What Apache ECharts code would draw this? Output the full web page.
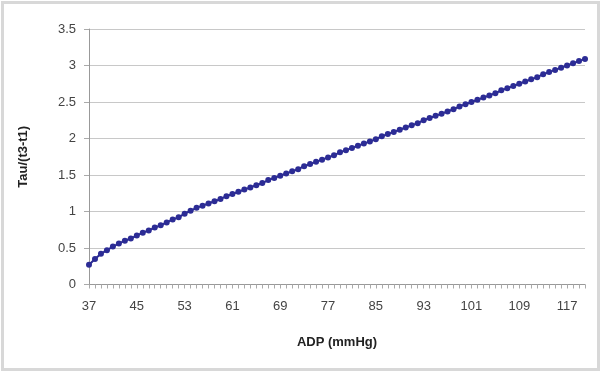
<!DOCTYPE html>
<html><head><meta charset="utf-8">
<script src="https://cdn.jsdelivr.net/npm/echarts@6/dist/echarts.min.js"></script>
<style>html,body{margin:0;padding:0;background:#fff}#c{width:600px;height:372px}</style>
</head><body><div id="c"></div>
<script>
const categories = [];
for (let v = 37; v <= 120; v++) categories.push(String(v));
const tauValues = [
0.27,0.35,0.42,0.47,0.52,0.56,0.60,0.63,0.67,0.71,
0.74,0.78,0.81,0.85,0.89,0.92,0.97,1.01,1.05,1.08,
1.11,1.14,1.17,1.21,1.24,1.27,1.30,1.33,1.36,1.39,
1.43,1.46,1.49,1.52,1.55,1.58,1.62,1.65,1.68,1.71,
1.74,1.77,1.81,1.84,1.87,1.90,1.93,1.96,1.99,2.03,
2.06,2.09,2.12,2.15,2.18,2.21,2.25,2.28,2.31,2.34,
2.37,2.40,2.44,2.47,2.50,2.53,2.56,2.59,2.62,2.66,
2.69,2.72,2.75,2.78,2.81,2.84,2.88,2.91,2.94,2.97,
3.00,3.03,3.06,3.09];
const yTicks = [0, 0.5, 1, 1.5, 2, 2.5, 3, 3.5];

const chart = echarts.init(document.getElementById('c'), null, {renderer: 'canvas'});
const font = '"Liberation Sans", Arial, sans-serif';
chart.setOption({
  animation: false,
  backgroundColor: '#fff',
  graphic: [{
    type: 'rect', left: 0, top: 0,
    shape: {x: 1.5, y: 1.5, width: 596, height: 367},
    style: {fill: 'none', stroke: '#d8d8d8', lineWidth: 3},
    silent: true
  }],
  grid: {left: 89, right: 15, top: 29, bottom: 87.5},
  xAxis: {
    type: 'category', data: categories, boundaryGap: false,
    name: 'ADP (mmHg)', nameLocation: 'middle', nameGap: 51,
    nameTextStyle: {fontFamily: font, fontSize: 13, fontWeight: 'bold', color: '#222'},
    axisLine: {lineStyle: {color: '#999', width: 1}},
    axisTick: {show: true, interval: 0, length: 4, lineStyle: {color: '#aaa'}},
    axisLabel: {interval: 7, fontFamily: font, fontSize: 13, color: '#444', margin: 15},
    splitLine: {show: false}
  },
  yAxis: {
    type: 'value', min: 0, max: 3.5, interval: 0.5,
    name: 'Tau/(t3-t1)', nameLocation: 'middle', nameGap: 59,
    nameTextStyle: {fontFamily: font, fontSize: 13, fontWeight: 'bold', color: '#222'},
    axisLine: {show: true, lineStyle: {color: '#999'}},
    axisTick: {show: true, length: 5, lineStyle: {color: '#aaa'}},
    axisLabel: {fontFamily: font, fontSize: 13, color: '#444', margin: 13,
      formatter: v => yTicks.includes(v) ? String(v) : ''},
    splitLine: {lineStyle: {color: '#c8c8c8', width: 1}}
  },
  series: [{
    type: 'line', data: tauValues,
    symbol: 'circle', symbolSize: 6, showSymbol: true, showAllSymbol: true,
    lineStyle: {color: '#2c2c95', width: 2},
    itemStyle: {color: '#2c2c95'}
  }]
});
</script></body></html>
